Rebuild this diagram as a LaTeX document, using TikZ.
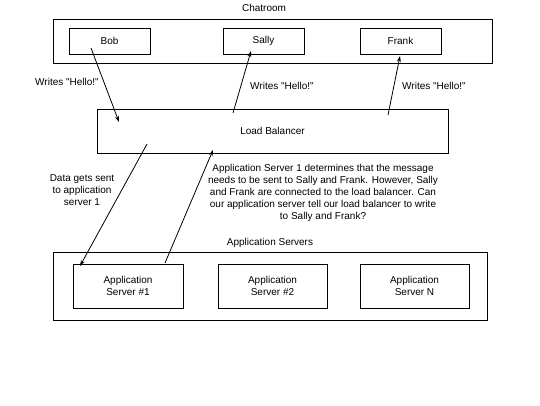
\documentclass[tikz,border=0pt]{standalone}
\usepackage{fontspec}
\setmainfont{Liberation Sans}
\usetikzlibrary{arrows.meta}
\newcommand{\hello}{Writes \textquotedbl Hello!\textquotedbl}
\begin{document}
\begin{tikzpicture}[x=1pt,y=-1pt,
  box/.style={draw,line width=0.8pt,inner sep=0pt,font=\fontsize{10}{12}\selectfont},
  lbl/.style={inner sep=0pt,align=center,font=\fontsize{10}{12}\selectfont},
  arr/.style={line width=0.8pt,-{Stealth[length=6pt,width=4pt]}}]
\useasboundingbox (0,0) rectangle (540,405);
% chatroom
\node[box,minimum width=439pt,minimum height=44pt] (chat) at (272.5,41) {};
\node[lbl] (chatlbl) at (264,8) {Chatroom};
\node[box,minimum width=81pt,minimum height=26pt] (bob) at (109.5,41) {Bob};
\node[box,minimum width=81pt,minimum height=26pt] (sally) at (263.5,41) {Sally};
\node[box,minimum width=81pt,minimum height=26pt] (frank) at (400.5,41) {Frank};
% load balancer
\node[box,minimum width=351pt,minimum height=44pt] (lb) at (272.5,131) {Load Balancer};
% app servers
\node[box,minimum width=434pt,minimum height=68pt] (apps) at (270,286) {};
\node[lbl] (appslbl) at (270,243) {Application Servers};
\node[box,align=center,minimum width=110pt,minimum height=44pt] (as1) at (128,286) {Application\\Server \#1};
\node[box,align=center,minimum width=109pt,minimum height=44pt] (as2) at (272.5,286) {Application\\Server \#2};
\node[box,align=center,minimum width=109pt,minimum height=44pt] (asn) at (414.5,286) {Application\\Server N};
% connector end points
\coordinate (b1) at (91,48);
\coordinate (b2) at (119,122);
\coordinate (s1) at (233,113);
\coordinate (s2) at (251,51);
\coordinate (f1) at (388,115);
\coordinate (f2) at (400,56);
\coordinate (d1) at (147,144);
\coordinate (d2) at (80,266);
\coordinate (r1) at (165,263);
\coordinate (r2) at (213,150);
\draw[arr] (b1) -- (b2);
\draw[arr] (s1) -- (s2);
\draw[arr] (f1) -- (f2);
\draw[arr] (d1) -- (d2);
\draw[arr] (r1) -- (r2);
% labels
\node[lbl] (w1) at (67,82) {\hello};
\node[lbl] (w2) at (282,86) {\hello};
\node[lbl] (w3) at (434,86) {\hello};
\node[lbl] (data) at (82,190) {Data gets sent\\to application\\server 1};
\node[lbl] (q) at (323,193) {Application Server 1 determines that the message\\needs to be sent to Sally and Frank. However, Sally\\and Frank are connected to the load balancer. Can\\our application server tell our load balancer to write\\to Sally and Frank?};
\end{tikzpicture}
\end{document}
